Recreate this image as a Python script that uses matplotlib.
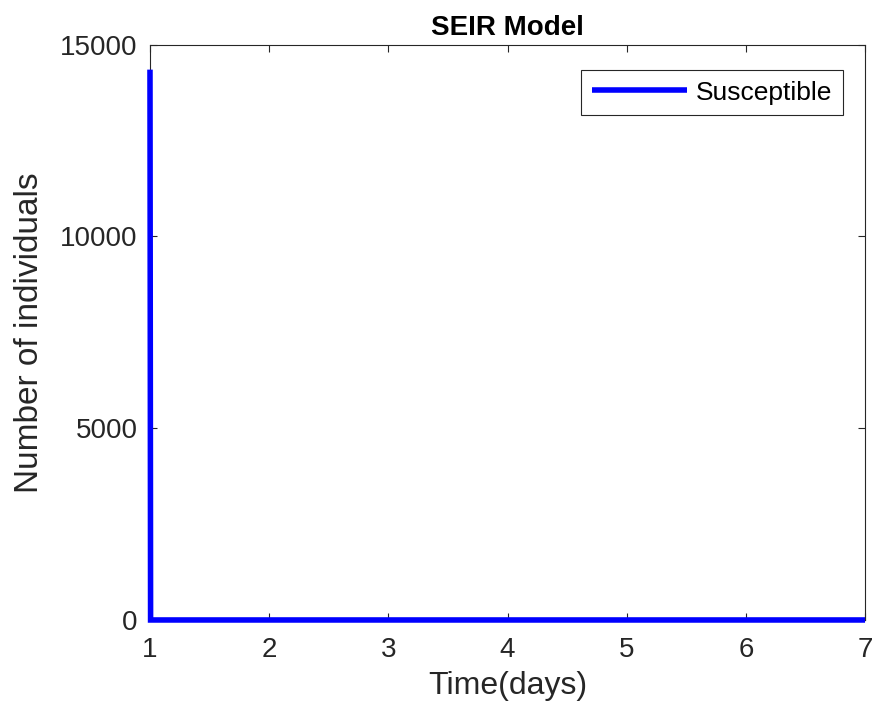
#!/usr/bin/env python3

import matplotlib
matplotlib.use('Agg')
import matplotlib.pyplot as plt

# time points (days) and susceptible count
time_days = [1, 1.005, 2, 3, 4, 5, 6, 7]
susceptible = [14350, 0, 0, 0, 0, 0, 0, 0]
x_ticks = [1, 2, 3, 4, 5, 6, 7]
y_ticks = [0, 5000, 10000, 15000]

plt.rcParams['font.family'] = ['Liberation Sans', 'DejaVu Sans']

fig = plt.figure(figsize=(8.72, 7.05), dpi=100)
ax = fig.add_axes([0.172, 0.1206, 0.820, 0.816])

ax.plot(time_days, susceptible, color='#0000ff', linewidth=4.0, label='Susceptible',
        solid_joinstyle='miter', solid_capstyle='butt', clip_on=False, zorder=3)

ax.set_xlim(1, 7)
ax.set_ylim(0, 15000)
ax.set_xticks(x_ticks)
ax.set_yticks(y_ticks)
ax.tick_params(direction='in', top=True, right=True, length=5, width=0.8,
               labelsize=20, colors='#262626')
ax.tick_params(axis='x', pad=12)
ax.tick_params(axis='y', pad=9)
for side in ax.spines.values():
    side.set_color('#262626')
    side.set_linewidth(0.8)

ax.set_xlabel('Time(days)', fontsize=23, color='#262626', labelpad=6)
ax.set_ylabel('Number of individuals', fontsize=24, color='#262626', labelpad=11)
ax.set_title('SEIR Model', fontsize=20, fontweight='bold', pad=7)

leg = ax.legend(loc='upper right', bbox_to_anchor=(0.969, 0.956), borderaxespad=0,
                fontsize=19, fancybox=False, framealpha=1, edgecolor='#262626',
                handlelength=3.6, handletextpad=0.35, borderpad=0.4)
leg.get_frame().set_linewidth(0.8)

fig.savefig('out.png', dpi=100)
